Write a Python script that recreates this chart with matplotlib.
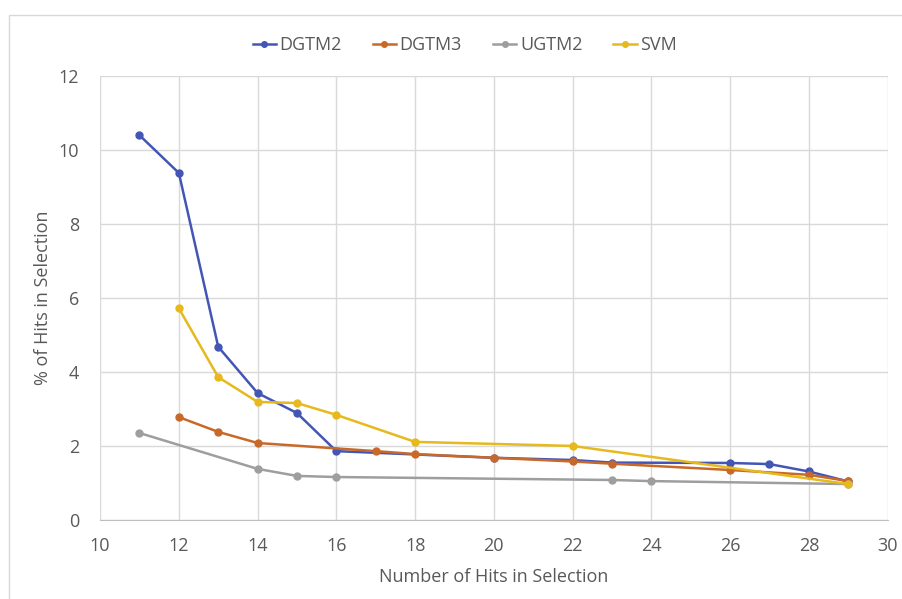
import matplotlib
matplotlib.use("Agg")
import matplotlib.pyplot as plt
from matplotlib.patches import Rectangle

# data
dgtm2_x = [11, 12, 13, 14, 15, 16, 20, 22, 23, 26, 27, 28, 29]
dgtm2_y = [10.4, 9.38, 4.68, 3.43, 2.89, 1.86, 1.68, 1.62, 1.55, 1.54, 1.51, 1.31, 1.04]

dgtm3_x = [12, 13, 14, 17, 18, 20, 22, 23, 26, 28, 29]
dgtm3_y = [2.78, 2.38, 2.08, 1.86, 1.78, 1.68, 1.58, 1.52, 1.35, 1.22, 1.05]

ugtm2_x = [11, 14, 15, 16, 23, 24, 29]
ugtm2_y = [2.35, 1.38, 1.19, 1.16, 1.08, 1.05, 0.97]

svm_x = [12, 13, 14, 15, 16, 18, 22, 29]
svm_y = [5.72, 3.86, 3.19, 3.16, 2.84, 2.11, 2.00, 0.97]

series = [
    ("DGTM2", dgtm2_x, dgtm2_y, "#4456b5"),
    ("DGTM3", dgtm3_x, dgtm3_y, "#c8692a"),
    ("UGTM2", ugtm2_x, ugtm2_y, "#9e9e9e"),
    ("SVM", svm_x, svm_y, "#e6b91e"),
]

plt.rcParams["font.family"] = ["Open Sans", "DejaVu Sans"]

fig = plt.figure(figsize=(9.02, 5.99), dpi=100)
# faint chart-area frame
fig.patches.append(Rectangle((9 / 902, -0.05), 1.0, 1 - 15 / 599 + 0.05,
                             transform=fig.transFigure, fill=False,
                             edgecolor="#d9d9d9", lw=1))
ax = fig.add_axes([0.111, 0.132, 0.873, 0.741])

for name, xs, ys, col in series:
    ax.plot(xs, ys, color=col, lw=1.8, marker="o", ms=5, label=name)

ax.set_xlim(10, 30)
ax.set_ylim(0, 12)
ax.set_xticks(range(10, 31, 2))
ax.set_yticks(range(0, 13, 2))
ax.grid(True, color="#d9d9d9", lw=1)
ax.set_axisbelow(True)
for s in ["top", "right", "left"]:
    ax.spines[s].set_visible(False)
ax.spines["bottom"].set_color("#bfbfbf")
ax.tick_params(length=0, labelsize=13, colors="#595959")
ax.tick_params(axis="x", pad=12)
ax.tick_params(axis="y", pad=15)

ax.set_xlabel("Number of Hits in Selection", fontsize=13, color="#595959", labelpad=10)
ax.set_ylabel("% of Hits in Selection", fontsize=13, color="#595959", labelpad=5)

ax.legend(loc="lower center", bbox_to_anchor=(0.463, 1.012), ncol=4, frameon=False,
          fontsize=13, handlelength=1.3, columnspacing=1.7, handletextpad=0.2,
          markerscale=0.8, labelcolor="#595959")

fig.savefig("out.png", dpi=100)
